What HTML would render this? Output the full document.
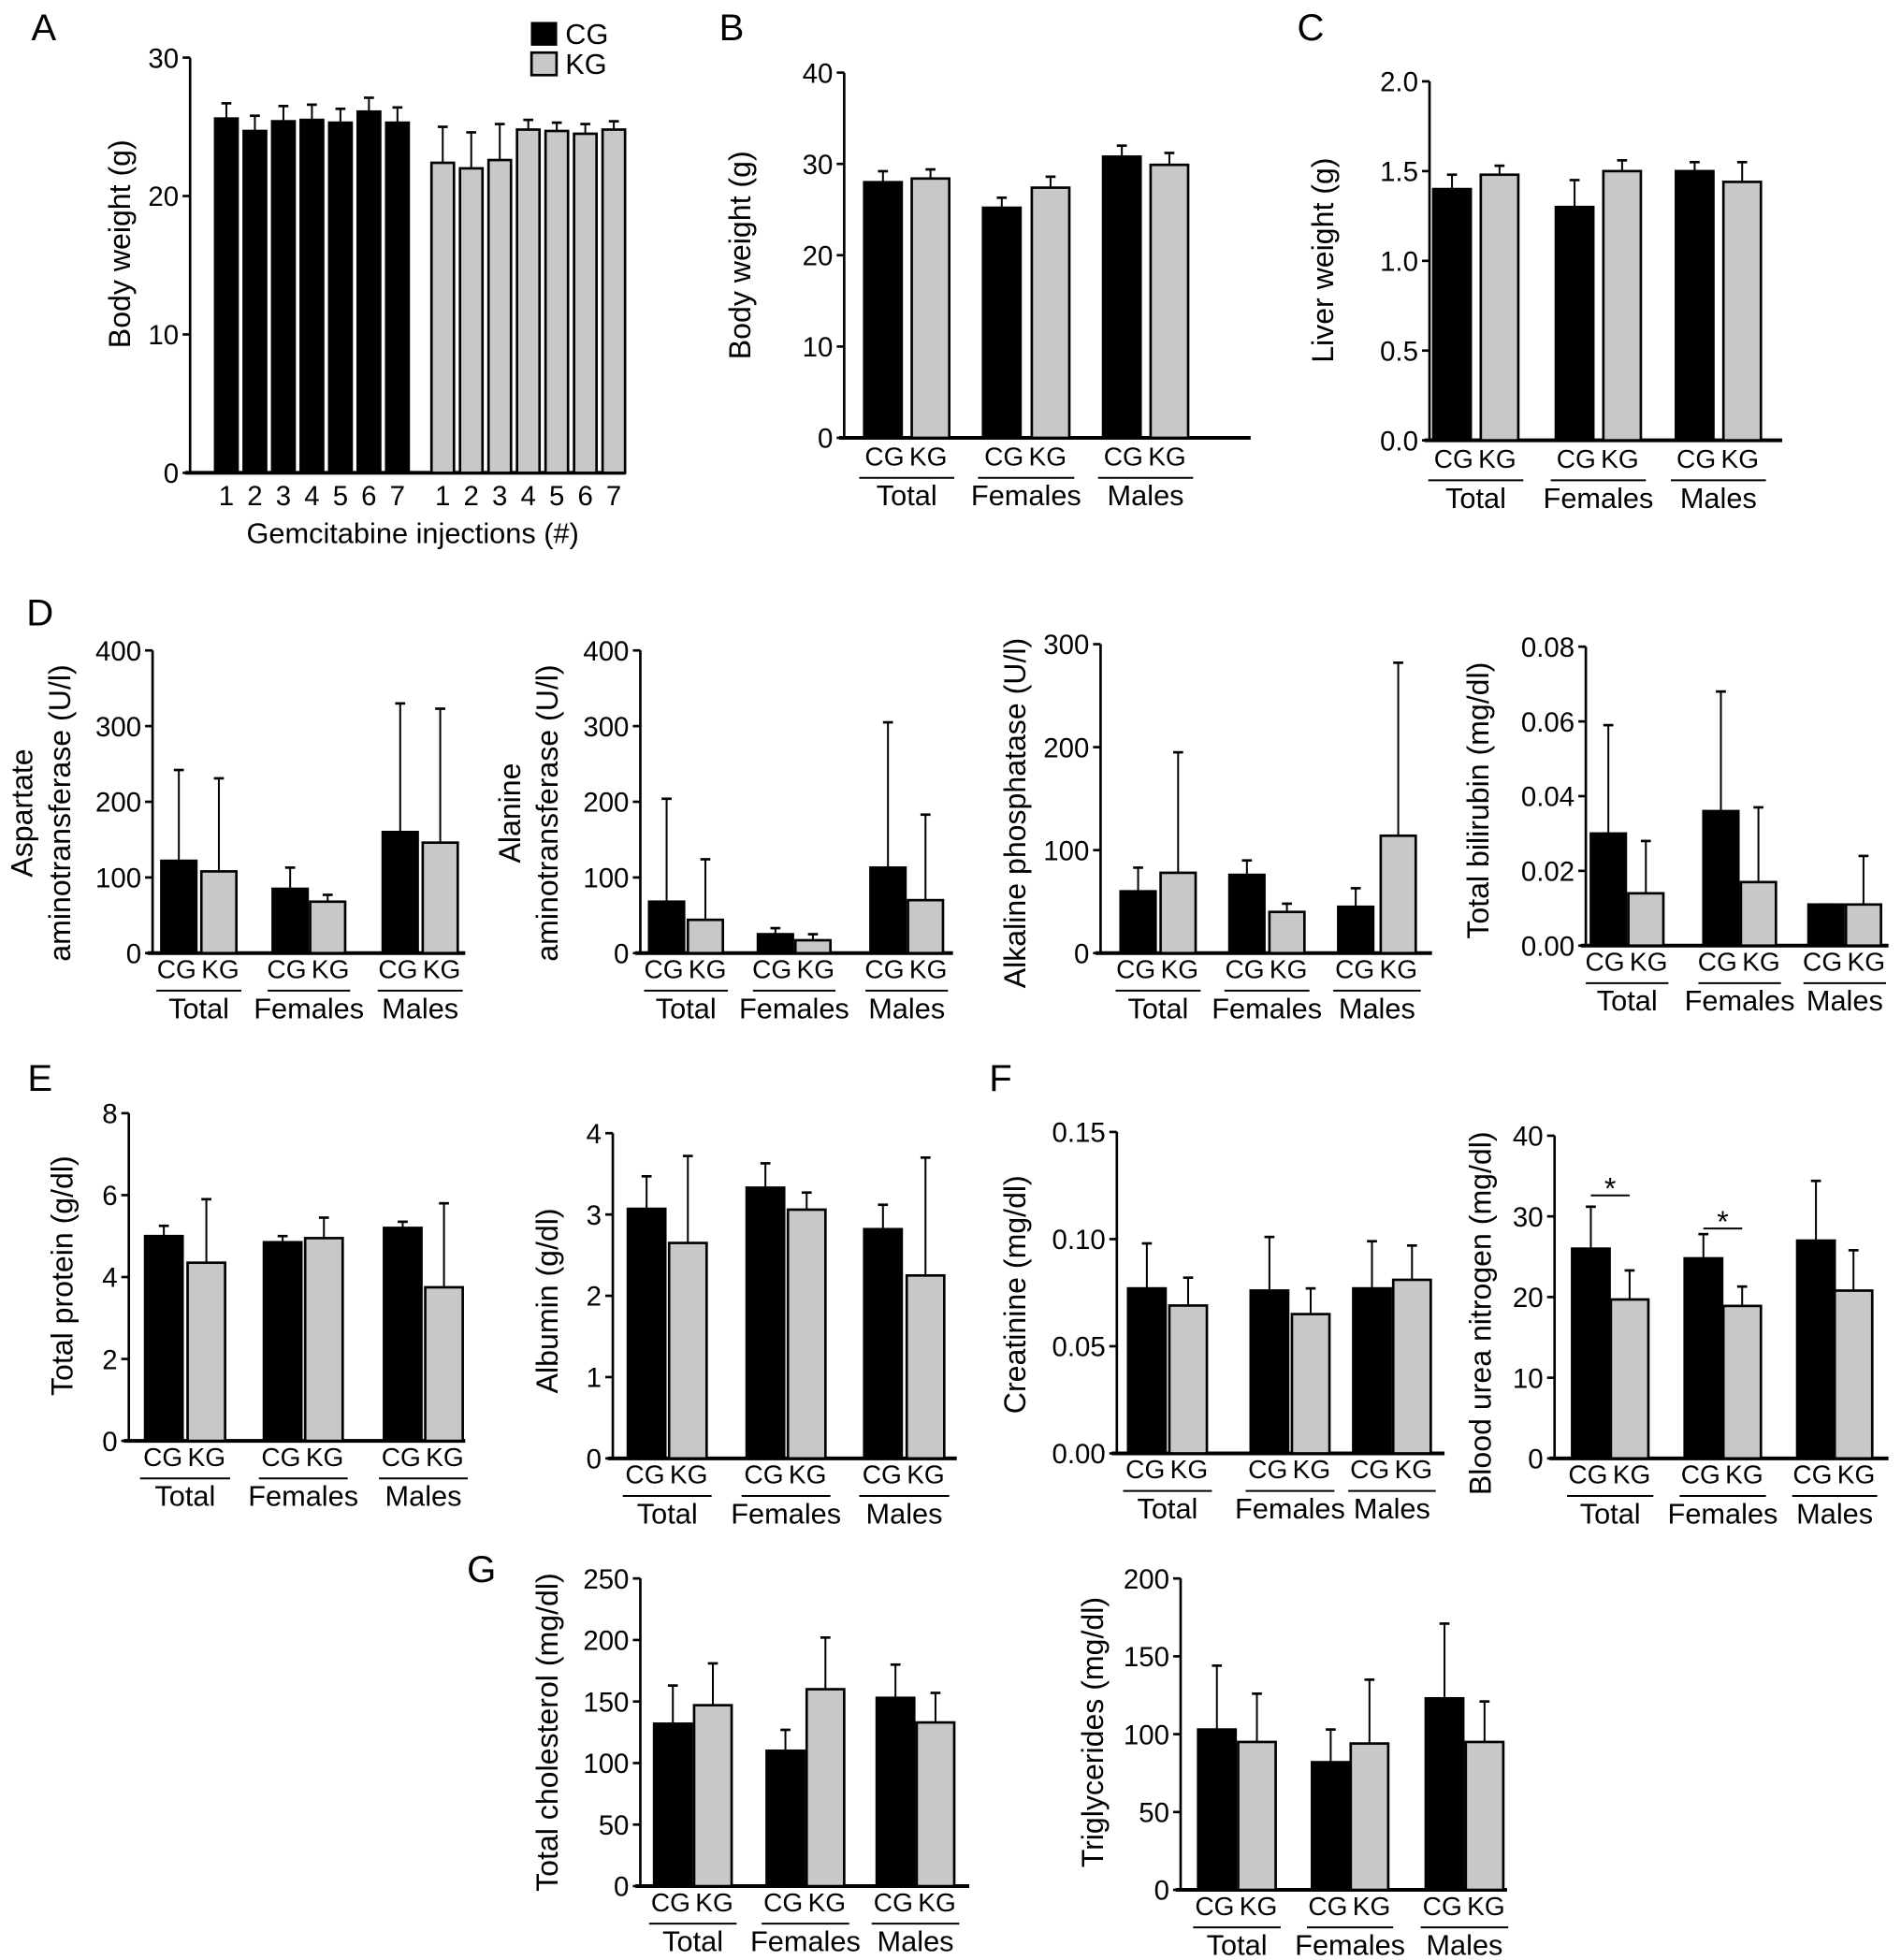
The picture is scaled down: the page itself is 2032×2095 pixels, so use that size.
<!DOCTYPE html>
<html><head><meta charset="utf-8"><style>
html,body{margin:0;padding:0;background:#fff}
svg{display:block;font-family:"Liberation Sans",Arial,sans-serif}
</style></head><body>
<svg id="fig" width="2032" height="2095" viewBox="0 0 1520 1567" xmlns="http://www.w3.org/2000/svg"></svg>
<script>
// ---- data (values, error-bar tops) ----
const groups = ["Total","Females","Males"];
const aInjections = ["1","2","3","4","5","6","7"];
const aCG = [25.6,24.7,25.4,25.5,25.3,26.1,25.3];
const aCGerr = [26.7,25.8,26.5,26.6,26.3,27.1,26.4];
const aKG = [22.4,22.0,22.6,24.8,24.7,24.5,24.8];
const aKGerr = [25.0,24.6,25.2,25.5,25.3,25.2,25.4];
const bCG=[28,25.2,30.8], bCGerr=[29.2,26.3,32], bKG=[28.4,27.4,29.9], bKGerr=[29.4,28.6,31.2];
const cCG=[1.40,1.30,1.50], cCGerr=[1.48,1.45,1.55], cKG=[1.48,1.50,1.44], cKGerr=[1.53,1.56,1.55];
const d1CG=[122,85,160], d1CGerr=[242,113,330], d1KG=[108,68,146], d1KGerr=[231,77,323];
const d2CG=[68,25,113], d2CGerr=[204,33,305], d2KG=[44,17,70], d2KGerr=[124,25,183];
const d3CG=[60,76,45], d3CGerr=[83,90,63], d3KG=[78,40,114], d3KGerr=[195,48,282];
const d4CG=[0.030,0.036,0.011], d4CGerr=[0.059,0.068,0.011], d4KG=[0.014,0.017,0.011], d4KGerr=[0.028,0.037,0.024];
const e1CG=[5.0,4.85,5.2], e1CGerr=[5.25,5.0,5.35], e1KG=[4.35,4.95,3.75], e1KGerr=[5.9,5.45,5.8];
const e2CG=[3.07,3.33,2.82], e2CGerr=[3.47,3.63,3.12], e2KG=[2.65,3.06,2.25], e2KGerr=[3.72,3.27,3.70];
const f1CG=[0.077,0.076,0.077], f1CGerr=[0.098,0.101,0.099], f1KG=[0.069,0.065,0.081], f1KGerr=[0.082,0.077,0.097];
const f2CG=[26,24.8,27], f2CGerr=[31.2,27.8,34.4], f2KG=[19.7,18.9,20.8], f2KGerr=[23.3,21.3,25.8];
const f2Sig=[32.6,28.5]; // bracket levels (Total, Females)
const g1CG=[132,110,153], g1CGerr=[163,127,180], g1KG=[147,160,133], g1KGerr=[181,202,157];
const g2CG=[103,82,123], g2CGerr=[144,103,171], g2KG=[95,94,95], g2KGerr=[126,135,121];

const NS="http://www.w3.org/2000/svg", svg=document.getElementById('fig');
function el(tag,attrs,parent,txt){const e=document.createElementNS(NS,tag);for(const k in attrs)e.setAttribute(k,attrs[k]);if(txt!==undefined)e.textContent=txt;(parent||svg).appendChild(e);return e;}

function axis(g,p){
  const y=v=>p.y0-(v/p.max)*(p.y0-p.yTop);
  el('line',{x1:p.ax,y1:p.y0,x2:p.ax,y2:p.yTop,stroke:'#000','stroke-width':2},g);
  el('line',{x1:p.ax-4,y1:p.y0,x2:p.xEnd,y2:p.y0,stroke:'#000','stroke-width':3},g);
  p.ticks.forEach(t=>{
    el('line',{x1:p.ax-6,y1:y(t),x2:p.ax,y2:y(t),stroke:'#000','stroke-width':2},g);
    const tx=el('text',{x:p.ax-9,y:y(t)+8,'text-anchor':'end','font-size':22},g,t.toFixed(p.dec));
    
    
  });
  return y;
}
function bar(g,x,w,v,err,y,y0,fill,name){
  const r=el('rect',{x:x-w/2,y:y(v),width:w,height:y0-y(v),fill:fill,stroke:'#000','stroke-width':2},g);
  
  
  const e=el('line',{x1:x,y1:y(v),x2:x,y2:y(err),stroke:'#000','stroke-width':1.5},g);
  
  
  el('line',{x1:x-4,y1:y(err),x2:x+4,y2:y(err),stroke:'#000','stroke-width':2},g);
}
function ylabel(g,lines,xs,cy){
  lines.forEach((l,i)=>{const t=el('text',{x:xs[i],y:cy,'font-size':24,'text-anchor':'middle',transform:`rotate(-90 ${xs[i]} ${cy})`},g,l);
    
    });
}
function panel(name,p,cg,cgE,kg,kgE){
  const g=el('g',{});
  
  
  const y=axis(g,p);
  for(let i=0;i<3;i++){
    bar(g,p.cx[i][0],p.w,cg[i],cgE[i],y,p.y0,'#000','bar-cg-'+groups[i].toLowerCase());
    bar(g,p.cx[i][1],p.w,kg[i],kgE[i],y,p.y0,'#c8c8c8','bar-kg-'+groups[i].toLowerCase());
    const a=p.cx[i][0], b=p.cx[i][1], m=(a+b)/2;
    const t1=el('text',{x:m-2,y:p.ly,'font-size':21,'text-anchor':'end'},g,'CG');
    
    
    const t2=el('text',{x:m+2,y:p.ly,'font-size':21,'text-anchor':'start'},g,'KG');
    
    
    el('line',{x1:a-p.w/2-4,y1:p.ly+10,x2:b+p.w/2+4,y2:p.ly+10,stroke:'#000','stroke-width':1.5},g);
    const gl=el('text',{x:m,y:p.ly+32,'font-size':23,'text-anchor':'middle'},g,groups[i]);
    
    
  }
  ylabel(g,p.yl,p.ylx,p.ylc);
  return {g,y,p};
}
function letter(t,x,y){const e=el('text',{x:x,y:y,'font-size':30,'text-anchor':'middle'},svg,t);
  
  }

// Panel A
(function(){
  const g=el('g',{});
  
  
  const p={ax:152,y0:378,yTop:46,max:30,xEnd:500,ticks:[0,10,20,30],dec:0};
  const y=axis(g,p);
  const x0=181, step=22.8, x1=354;
  aInjections.forEach((lab,i)=>{
    bar(g,x0+i*step,18,aCG[i],aCGerr[i],y,p.y0,'#000','bar-cg-'+lab);
    bar(g,x1+i*step,18,aKG[i],aKGerr[i],y,p.y0,'#c8c8c8','bar-kg-'+lab);
    const t=el('text',{x:x0+i*step,y:404,'font-size':22,'text-anchor':'middle'},g,lab);
    
    
    const t2=el('text',{x:x1+i*step,y:404,'font-size':22,'text-anchor':'middle'},g,lab);
    
    
  });
  const xt=el('text',{x:330,y:434,'font-size':23,'text-anchor':'middle'},g,'Gemcitabine injections (#)');
  
  
  ylabel(g,['Body weight (g)'],[104],195);
  const l1=el('rect',{x:425,y:18,width:20,height:18,fill:'#000',stroke:'#000'},g);
  
  
  const lt1=el('text',{x:452,y:35,'font-size':23},g,'CG');
  
  
  const l2=el('rect',{x:425,y:42,width:20,height:18,fill:'#c8c8c8',stroke:'#000','stroke-width':2},g);
  
  
  const lt2=el('text',{x:452,y:59,'font-size':23},g,'KG');
  
  
})();

panel('panel-b',{ax:675,y0:350,yTop:58,max:40,xEnd:1000,ticks:[0,10,20,30,40],dec:0,w:30,
  cx:[[706,744],[801,840],[897,935]],ly:372,yl:['Body weight (g)'],ylx:[600],ylc:204},bCG,bCGerr,bKG,bKGerr);
panel('panel-c',{ax:1143,y0:352,yTop:65,max:2.0,xEnd:1425,ticks:[0,0.5,1,1.5,2],dec:1,w:30,
  cx:[[1161,1199],[1259,1297],[1355,1393]],ly:374,yl:['Liver weight (g)'],ylx:[1066],ylc:208},cCG,cCGerr,cKG,cKGerr);
panel('panel-d-ast',{ax:122,y0:762,yTop:520,max:400,xEnd:372,ticks:[0,100,200,300,400],dec:0,w:28,
  cx:[[143,175],[232,262],[320,352]],ly:782,yl:['Aspartate','aminotransferase (U/l)'],ylx:[26,56],ylc:650},d1CG,d1CGerr,d1KG,d1KGerr);
panel('panel-d-alt',{ax:512,y0:762,yTop:520,max:400,xEnd:762,ticks:[0,100,200,300,400],dec:0,w:28,
  cx:[[533,564],[620,650],[710,740]],ly:782,yl:['Alanine','aminotransferase (U/l)'],ylx:[416,446],ylc:650},d2CG,d2CGerr,d2KG,d2KGerr);
panel('panel-d-alp',{ax:880,y0:762,yTop:515,max:300,xEnd:1145,ticks:[0,100,200,300],dec:0,w:28,
  cx:[[910,942],[997,1029],[1084,1118]],ly:782,yl:['Alkaline phosphatase (U/l)'],ylx:[820],ylc:650},d3CG,d3CGerr,d3KG,d3KGerr);
panel('panel-d-bilirubin',{ax:1268,y0:756,yTop:517,max:0.08,xEnd:1510,ticks:[0,0.02,0.04,0.06,0.08],dec:2,w:28,
  cx:[[1286,1316],[1376,1406],[1460,1490]],ly:776,yl:['Total bilirubin (mg/dl)'],ylx:[1190],ylc:640},d4CG,d4CGerr,d4KG,d4KGerr);
panel('panel-e-protein',{ax:103,y0:1152,yTop:890,max:8,xEnd:372,ticks:[0,2,4,6,8],dec:0,w:30,
  cx:[[131,165],[226,259],[322,355]],ly:1172,yl:['Total protein (g/dl)'],ylx:[58],ylc:1020},e1CG,e1CGerr,e1KG,e1KGerr);
panel('panel-e-albumin',{ax:490,y0:1166,yTop:906,max:4,xEnd:765,ticks:[0,1,2,3,4],dec:0,w:30,
  cx:[[517,550],[612,645],[706,740]],ly:1186,yl:['Albumin (g/dl)'],ylx:[446],ylc:1040},e2CG,e2CGerr,e2KG,e2KGerr);
panel('panel-f-creatinine',{ax:893,y0:1162,yTop:905,max:0.15,xEnd:1155,ticks:[0,0.05,0.1,0.15],dec:2,w:30,
  cx:[[917,950],[1015,1048],[1097,1129]],ly:1182,yl:['Creatinine (mg/dl)'],ylx:[820],ylc:1035},f1CG,f1CGerr,f1KG,f1KGerr);
const f2=panel('panel-f-bun',{ax:1243,y0:1166,yTop:908,max:40,xEnd:1510,ticks:[0,10,20,30,40],dec:0,w:30,
  cx:[[1272,1303],[1362,1393],[1452,1482]],ly:1186,yl:['Blood urea nitrogen (mg/dl)'],ylx:[1192],ylc:1050},f2CG,f2CGerr,f2KG,f2KGerr);
panel('panel-g-cholesterol',{ax:512,y0:1508,yTop:1262,max:250,xEnd:775,ticks:[0,50,100,150,200,250],dec:0,w:30,
  cx:[[538,570],[628,660],[716,748]],ly:1528,yl:['Total cholesterol (mg/dl)'],ylx:[446],ylc:1385},g1CG,g1CGerr,g1KG,g1KGerr);
panel('panel-g-triglycerides',{ax:944,y0:1511,yTop:1262,max:200,xEnd:1205,ticks:[0,50,100,150,200],dec:0,w:30,
  cx:[[973,1005],[1064,1095],[1155,1187]],ly:1531,yl:['Triglycerides (mg/dl)'],ylx:[882],ylc:1385},g2CG,g2CGerr,g2KG,g2KGerr);

// significance markers (Total, Females) in panel F BUN
f2Sig.forEach((lvl,i)=>{
  const a=f2.p.cx[i][0], b=f2.p.cx[i][1], yy=f2.y(lvl);
  const l=el('line',{x1:a,y1:yy,x2:b,y2:yy,stroke:'#000','stroke-width':1.5},f2.g);
  
  
  const t=el('text',{x:(a+b)/2,y:yy+3,'font-size':24,'text-anchor':'middle'},f2.g,'*');
  
  
});

letter('A',35,32);letter('B',585,32);letter('C',1048,32);letter('D',32,500);
letter('E',32,872);letter('F',800,872);letter('G',385,1265);
</script>
</body></html>
